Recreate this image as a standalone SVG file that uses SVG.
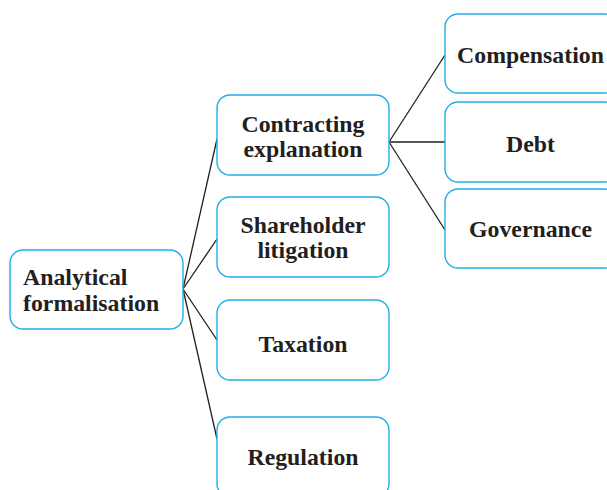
<svg xmlns="http://www.w3.org/2000/svg" width="607" height="490" viewBox="0 0 607 490">
<style>
.box{fill:#fff;stroke:#1fb0e8;stroke-width:1.4}
.t{font-family:"Liberation Serif","Times New Roman",serif;font-weight:bold;font-size:23.8px;fill:#231f20}
.c{text-anchor:middle}
.ln{stroke:#231f20;stroke-width:1.3;fill:none}
</style>
<rect width="607" height="490" fill="#fff"/>
<g id="connectors">
<line class="ln" x1="183" y1="289" x2="217" y2="139"/>
<line class="ln" x1="183" y1="289" x2="217" y2="239"/>
<line class="ln" x1="183" y1="289" x2="217" y2="340"/>
<line class="ln" x1="183" y1="289" x2="217" y2="439"/>
<line class="ln" x1="389" y1="142" x2="445" y2="55"/>
<line class="ln" x1="389" y1="142" x2="445" y2="142"/>
<line class="ln" x1="389" y1="142" x2="445" y2="230"/>
</g>
<g id="analytical">
<rect class="box" x="10" y="250" width="173" height="79" rx="13"/>
<text class="t" x="23" y="285">Analytical</text>
<text class="t" x="23" y="311">formalisation</text>
</g>
<g id="contracting">
<rect class="box" x="217" y="95" width="172" height="80" rx="13"/>
<text class="t c" x="303" y="132">Contracting</text>
<text class="t c" x="303" y="157">explanation</text>
</g>
<g id="shareholder">
<rect class="box" x="217" y="197" width="172" height="80" rx="13"/>
<text class="t c" x="303" y="233">Shareholder</text>
<text class="t c" x="303" y="258">litigation</text>
</g>
<g id="taxation">
<rect class="box" x="217" y="300" width="172" height="80" rx="13"/>
<text class="t c" x="303" y="352">Taxation</text>
</g>
<g id="regulation">
<rect class="box" x="217" y="417" width="172" height="80" rx="13"/>
<text class="t c" x="303" y="465">Regulation</text>
</g>
<g id="compensation">
<rect class="box" x="445" y="14" width="172" height="79" rx="13"/>
<text class="t c" x="530.5" y="63">Compensation</text>
</g>
<g id="debt">
<rect class="box" x="445" y="102" width="172" height="80" rx="13"/>
<text class="t c" x="530.5" y="152">Debt</text>
</g>
<g id="governance">
<rect class="box" x="445" y="189" width="172" height="79" rx="13"/>
<text class="t c" x="530.5" y="237">Governance</text>
</g>
</svg>
